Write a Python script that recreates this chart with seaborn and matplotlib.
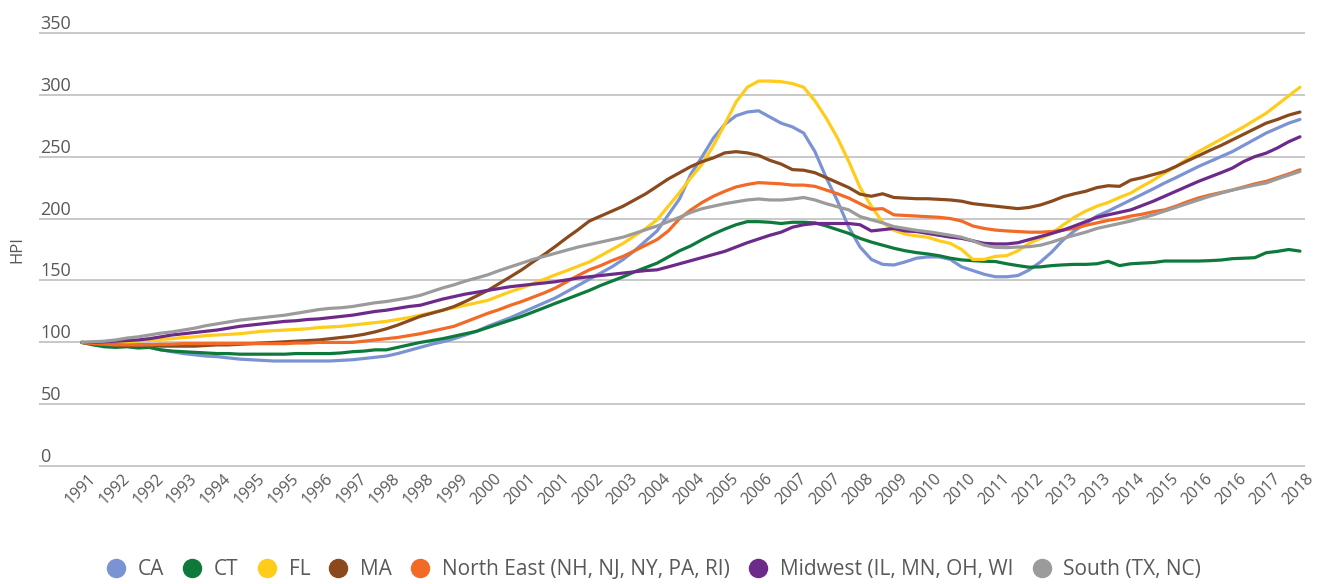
import numpy as np
import pandas as pd
import matplotlib
matplotlib.use("Agg")
import matplotlib.pyplot as plt
import matplotlib.transforms as mtransforms
import seaborn as sns
from matplotlib.lines import Line2D

# ---------------- data (quarterly HPI, index = 100 at start) ----------------
series_names = ["CA", "CT", "FL", "MA", "North East (NH, NJ, NY, PA, RI)",
                "Midwest (IL, MN, OH, WI", "South (TX, NC)"]

ca = [100, 99, 98, 97, 97, 96.5, 96, 94, 92.5, 91, 90, 89, 88.5, 87.5, 86.5,
      86, 85.5, 85, 85, 85, 85, 85, 85, 85.5, 86, 87, 88, 89, 91, 93.5,
      96, 98.5, 100.5, 103, 106, 109, 113, 116.5, 120, 124, 128, 132,
      136, 141, 146, 151, 156, 161, 167, 174, 182, 190, 203, 216,
      236, 250, 265, 276, 283, 286, 287, 282, 277, 274, 269, 254,
      233, 214, 193, 177, 167, 163, 162.5, 165, 168, 169, 169, 167,
      161, 158, 155, 153, 153, 154, 158.5, 165, 173, 182.7, 190, 196,
      202, 206, 210.5, 215, 219.5, 224, 228.7, 233, 237.5, 242, 246, 250,
      254, 259, 264, 269, 273, 277, 280]

ct = [100, 98, 96.5, 96, 96.5, 95.5, 96, 94, 93, 92.5, 92, 91.5, 91, 91, 90.5,
      90.5, 90.5, 90.5, 90.5, 91, 91, 91, 91, 91.5, 92.5, 93, 94, 94, 96, 98,
      100, 101.5, 103, 105, 107, 109, 112, 115, 118, 121, 124.5, 128,
      131.6, 135, 138.5, 142, 146, 149.5, 153, 157, 160.5, 164, 169, 174,
      178, 183, 187.5, 191.5, 195, 197.5, 197.5, 197, 196, 197, 197, 196.5,
      194, 191, 188, 184, 181, 178.5, 176, 174, 172.5, 171.4, 170, 168,
      166.6, 166, 165.5, 165.3, 163.5, 162, 160.7, 161, 162, 162.6, 163, 163,
      163.5, 165.5, 162, 163.5, 164, 164.5, 165.7, 165.7, 165.7, 165.7, 166, 166.5,
      167.6, 168, 168.4, 172.4, 173.5, 175, 173.7]

fl = [100, 100, 100, 100, 100.5, 101, 102, 102.5, 103, 104, 104.5, 105.5,
      106, 106.5, 107, 108, 109, 109.5, 110, 110.5, 111, 112, 112.5, 113,
      114, 115, 116, 117, 118.5, 120, 122, 124, 126, 128, 130, 132,
      134, 137.5, 141, 144, 147.5, 151, 154.6, 158, 161.5, 165, 170, 175,
      180, 186, 192, 199, 210, 221, 233, 244, 259, 276, 294, 306,
      311, 311, 310.5, 309, 306, 295, 281, 265, 246, 225, 210, 197,
      190.5, 187.5, 186, 184.9, 182, 180, 175, 167, 167, 169.5, 170, 174,
      180, 184, 188, 194.8, 201, 206, 210, 213, 217, 220.6, 226, 231,
      236.7, 242, 248, 254, 259, 264, 269, 274, 279.5, 285, 292, 299, 306]

ma = [100, 99, 98.5, 98, 97.5, 98, 98, 97, 97, 97, 97, 97.5, 98, 98, 98.5,
      99, 99.5, 100, 100.5, 101, 101.5, 102, 103, 104, 105, 106.5, 108.5,
      111, 114, 117.5, 121, 123.5, 126, 129, 133, 137.5, 142, 147.5, 153,
      158.6, 165, 171, 177.6, 184.5, 191, 198, 202, 206, 210, 215, 220,
      226, 232, 237, 242, 246, 249, 253, 254, 253, 251, 247, 244,
      239.5, 239, 237, 233, 229, 225, 219.7, 218, 220, 217, 216.5, 216,
      216, 215.5, 215, 214, 212, 211, 210, 209, 208, 209, 211, 214,
      217.6, 220, 222, 225, 226.5, 226, 231, 233, 235.5, 238, 242, 246.5,
      250.7, 255, 259, 263.5, 268, 272.5, 277, 280, 283.5, 286]

ne = [100, 99, 98.5, 98, 98, 98, 98, 98.5, 98.5, 99, 99, 99, 99, 99, 99,
      99, 99, 99, 99, 99.5, 99.5, 100, 100, 100, 100, 101, 102, 103, 104, 105.5,
      107, 109, 111, 113, 116.5, 120, 123.5, 126.5, 130, 133, 136.5, 140,
      144, 149, 154, 158.6, 162, 166, 169.5, 174, 178.5, 183, 190, 200,
      207, 213, 218, 222, 225.5, 227.5, 229, 228.5, 228, 227, 227, 226,
      223, 220, 216.5, 212, 207.5, 208, 203, 202.5, 202, 201.5, 201, 200,
      198, 194, 192, 190.7, 190, 189.5, 189, 189, 189.5, 190.7, 192, 194.5,
      196.5, 198.5, 200, 202, 203.5, 205.5, 207, 210, 213.5, 216.6, 219, 221,
      223, 225.5, 228, 230, 233, 236, 239.4]

mw = [100, 100, 100.5, 101, 101.5, 102, 103, 104.5, 106, 107, 108, 109,
      110, 111.5, 113, 114, 115, 116, 117, 117.5, 118.5, 119, 120, 121,
      122, 123.5, 125, 126, 127.5, 129, 130, 132.5, 135, 137, 139, 140.5,
      142, 143.5, 145, 146, 147, 148, 149, 150.5, 152, 153, 154, 155,
      156, 157, 158, 158.6, 161, 163.5, 166, 168.5, 171, 173.5, 177, 180.5,
      183.5, 186.5, 189, 193, 195, 196, 196, 196, 196, 195, 190, 191,
      192, 190, 189.5, 188, 186.5, 185, 184, 182, 180, 179.5, 179.5, 180.5,
      183, 185.5, 188, 190.7, 194, 197.5, 201, 203, 205, 207, 210.5, 214,
      218, 222, 226, 230, 233.5, 237, 240.7, 246, 250, 252.8, 257, 262, 266]

south = [100, 100.5, 101, 102, 103.5, 104.5, 106, 107.5, 108.5, 110, 111.5, 113.5,
         115, 116.5, 118, 119, 120, 121, 122, 123.5, 125, 126.5, 127.5, 128,
         129, 130.5, 132, 133, 134.5, 136, 138, 141, 144, 146.5, 149.5, 152,
         154.6, 158, 161, 164, 167, 169.5, 172, 174.5, 177, 179, 181, 183,
         185, 188, 191, 194, 197.5, 201, 205, 208, 210, 212, 213.5, 215,
         215.8, 215, 215, 215.8, 217, 215, 212, 209.5, 207, 201.6, 199, 196.5,
         193.5, 192, 190.5, 189.4, 188, 186.5, 184.9, 182, 178.5, 176.8, 176.5, 177,
         177.3, 178.5, 181, 184, 186.5, 189, 192, 194, 196, 198, 200.5, 203,
         206, 209, 212, 215, 218, 220.5, 223, 225, 227, 228.7, 232, 235, 238]

tick_labels = ["1991", "1992", "1992", "1993", "1994", "1995", "1995", "1996",
               "1997", "1998", "1998", "1999", "2000", "2001", "2001", "2002",
               "2003", "2004", "2004", "2005", "2006", "2007", "2007", "2008",
               "2009", "2010", "2010", "2011", "2012", "2013", "2013", "2014",
               "2015", "2016", "2016", "2017", "2018"]

y_ticks = [0, 50, 100, 150, 200, 250, 300, 350]

colors = ["#7b93d3", "#0d7a3b", "#ffcc1a", "#8a4a1e", "#f26a25", "#6e2a8a", "#9b9b9b"]

# ---------------- build long-form table ----------------
all_vals = [ca, ct, fl, ma, ne, mw, south]
frames = []
for name, vals in zip(series_names, all_vals):
    frames.append(pd.DataFrame({"quarter": np.arange(len(vals)),
                                "HPI": vals, "region": name}))
df = pd.concat(frames, ignore_index=True)

# ---------------- plot ----------------
sns.set_theme(style="white")
plt.rcParams["font.family"] = ["Open Sans", "DejaVu Sans"]
text_color = "#595959"

fig = plt.figure(figsize=(13.17, 5.84), dpi=100)
ax = fig.add_axes([0.0296, 0.2003, 0.9613, 0.7449])

sns.lineplot(data=df, x="quarter", y="HPI", hue="region",
             hue_order=series_names, palette=colors, linewidth=2.3,
             legend=False, ax=ax)

n = len(ca)
ax.set_xlim(-3.8, n - 1 + 0.45)
ax.set_ylim(-0.6, 350.6)

for s in ax.spines.values():
    s.set_visible(False)

ax.set_yticks(y_ticks)
ax.set_yticklabels([str(v) for v in y_ticks])
ax.yaxis.grid(True, color="#c8c8c8", linewidth=1.4)
ax.xaxis.grid(False)
ax.tick_params(axis="y", length=0, pad=-1, labelsize=13, labelcolor=text_color)
for lbl in ax.get_yticklabels():
    lbl.set_horizontalalignment("left")
    lbl.set_verticalalignment("bottom")

xt = np.arange(0, n, 3)
ax.set_xticks(xt)
ax.set_xticklabels(tick_labels, rotation=45, ha="right", va="top",
                   rotation_mode="anchor")
ax.tick_params(axis="x", length=0, pad=3, labelsize=11.5, labelcolor=text_color)
shift = mtransforms.ScaledTranslation(6 / 100, 0, fig.dpi_scale_trans)
for lbl in ax.get_xticklabels():
    lbl.set_transform(lbl.get_transform() + shift)

ax.set_xlabel("")
ax.set_ylabel("HPI", fontsize=12, color=text_color)
ax.yaxis.set_label_coords(-0.011, 0.5)

handles = [Line2D([], [], marker="o", linestyle="", markersize=13,
                  markerfacecolor=c, markeredgecolor=c) for c in colors]
fig.legend(handles, series_names, loc="center", bbox_to_anchor=(0.496, 0.024),
           ncol=7, frameon=False, fontsize=15, handletextpad=0.55,
           columnspacing=0.85, labelcolor=text_color, handlelength=1.0)

fig.savefig("out.png", dpi=100, facecolor="white")
